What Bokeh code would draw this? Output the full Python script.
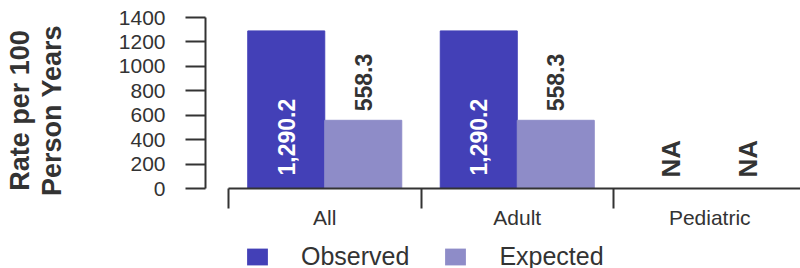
import math
from bokeh.plotting import figure
from bokeh.layouts import column
from bokeh.models import ColumnDataSource, Range1d, FixedTicker, Legend, LegendItem
from bokeh.core.properties import value
from bokeh.embed import file_html
from bokeh.resources import INLINE

# ---- data ----
categories = ["All", "Adult", "Pediatric"]
observed = [1290.2, 1290.2, float("nan")]
expected = [558.3, 558.3, float("nan")]
series_names = ["Observed", "Expected"]
y_ticks = [0, 200, 400, 600, 800, 1000, 1200, 1400]
y_title_lines = ["Rate per 100", "Person Years"]

OBS_COLOR = "#4340b7"
EXP_COLOR = "#8e8cc8"
TEXT = "#333333"
FONT = "Liberation Sans"
PAD = "\u00a0\u00a0"  # nudges the centred axis title slightly downward

def fmt(v):
    return "NA" if math.isnan(v) else f"{v:,.1f}"

def bar_top(v):
    return 0 if math.isnan(v) else v

n = len(categories)
bar_w = 0.4
obs_x = [i + 0.5 - bar_w / 2 for i in range(n)]
exp_x = [i + 0.5 + bar_w / 2 for i in range(n)]

# layout (pixels)
W, H_MAIN, H_LEG = 800, 244, 24
frame_left, frame_top, zero_y = 205, 17, 188
cat_px = 192.5
x0_px = 228

p = figure(width=W, height=H_MAIN, output_backend="svg", toolbar_location=None,
           x_range=Range1d((frame_left - x0_px) / cat_px, (W - x0_px) / cat_px),
           y_range=Range1d(0, y_ticks[-1]),
           min_border_left=frame_left, min_border_right=0, min_border_top=frame_top,
           min_border_bottom=H_MAIN - zero_y, background_fill_color="white",
           border_fill_color="white")
p.outline_line_color = None
p.grid.visible = False

obs_src = ColumnDataSource(dict(x=obs_x, top=[bar_top(v) for v in observed]))
exp_src = ColumnDataSource(dict(x=exp_x, top=[bar_top(v) for v in expected]))
p.vbar(x="x", top="top", bottom=0, width=bar_w, source=obs_src,
       fill_color=OBS_COLOR, line_color=OBS_COLOR, line_width=1)
p.vbar(x="x", top="top", bottom=0, width=bar_w, source=exp_src,
       fill_color=EXP_COLOR, line_color=EXP_COLOR, line_width=1)

# value labels
lx, ly, lt, lc, lo, lf = [], [], [], [], [], []
for xs, vals, inside in ((obs_x, observed, True), (exp_x, expected, False)):
    for x, v in zip(xs, vals):
        lx.append(x)
        lt.append(fmt(v))
        if math.isnan(v):
            ly.append(0); lc.append(TEXT); lo.append(-11); lf.append("26px")
        elif inside:
            ly.append(0); lc.append("white"); lo.append(-13); lf.append("23px")
        else:
            ly.append(v); lc.append(TEXT); lo.append(-9); lf.append("23px")
lab_src = ColumnDataSource(dict(x=lx, y=ly, text=lt, color=lc, yoff=lo, fs=lf))
p.text(x="x", y="y", text="text", source=lab_src, angle=math.pi / 2,
       text_align="left", text_baseline="middle", text_color="color",
       y_offset="yoff", text_font=value(FONT), text_font_style="bold",
       text_font_size="fs")

# y axis
ya = p.yaxis[0]
ya.ticker = FixedTicker(ticks=y_ticks)
ya.bounds = (y_ticks[0], y_ticks[-1])
ya.axis_line_color = TEXT
ya.axis_line_width = 2
ya.major_tick_out = 20
ya.major_tick_in = 0
ya.major_tick_line_color = TEXT
ya.major_tick_line_width = 2
ya.minor_tick_line_color = None
ya.major_label_standoff = 20
ya.major_label_text_font = FONT
ya.major_label_text_font_size = "21px"
ya.major_label_text_color = TEXT
ya.axis_label = "\n".join(line + PAD for line in y_title_lines)
ya.axis_label_text_font = FONT
ya.axis_label_text_font_size = "27px"
ya.axis_label_text_font_style = "bold"
ya.axis_label_text_color = TEXT
ya.axis_label_text_line_height = 1.06
ya.axis_label_standoff = 49

# x axis
xa = p.xaxis[0]
centers = [i + 0.5 for i in range(n)]
xa.ticker = FixedTicker(ticks=centers, minor_ticks=[float(i) for i in range(n + 1)])
xa.major_label_overrides = {c: cat for c, cat in zip(centers, categories)}
xa.bounds = (0, n)
xa.axis_line_color = TEXT
xa.axis_line_width = 2
xa.major_tick_out = 0
xa.major_tick_in = 0
xa.major_tick_line_color = None
xa.minor_tick_out = 20
xa.minor_tick_in = 0
xa.minor_tick_line_color = TEXT
xa.minor_tick_line_width = 2
xa.major_label_standoff = -3
xa.major_label_text_font = FONT
xa.major_label_text_font_size = "21px"
xa.major_label_text_color = TEXT

# legend strip (separate figure so the legend is not clipped by the chart frame)
lg = figure(width=W, height=H_LEG, output_backend="svg", toolbar_location=None,
            x_range=Range1d(0, 1), y_range=Range1d(0, 1),
            x_axis_type=None, y_axis_type=None, min_border=0,
            background_fill_color="white", border_fill_color="white")
lg.outline_line_color = None
lg.grid.visible = False
sw_obs = lg.vbar(x="x", top="top", bottom=0, width=bar_w, source=obs_src,
                 fill_color=OBS_COLOR, line_color=None)
sw_exp = lg.vbar(x="x", top="top", bottom=0, width=bar_w, source=exp_src,
                 fill_color=EXP_COLOR, line_color=None)
sw_obs.visible = False
sw_exp.visible = False
legend = Legend(items=[LegendItem(label=series_names[0], renderers=[sw_obs]),
                       LegendItem(label=series_names[1], renderers=[sw_exp])],
                location=(39, -3), orientation="horizontal",
                glyph_width=26, glyph_height=21, label_standoff=31, spacing=33,
                padding=0, margin=0, border_line_color=None,
                background_fill_alpha=0, inactive_fill_alpha=0,
                label_text_font=FONT,
                label_text_font_size="25px", label_text_color=TEXT)
lg.add_layout(legend)

layout = column(p, lg, spacing=0)
open("out.html", "w").write(file_html(layout, INLINE))
